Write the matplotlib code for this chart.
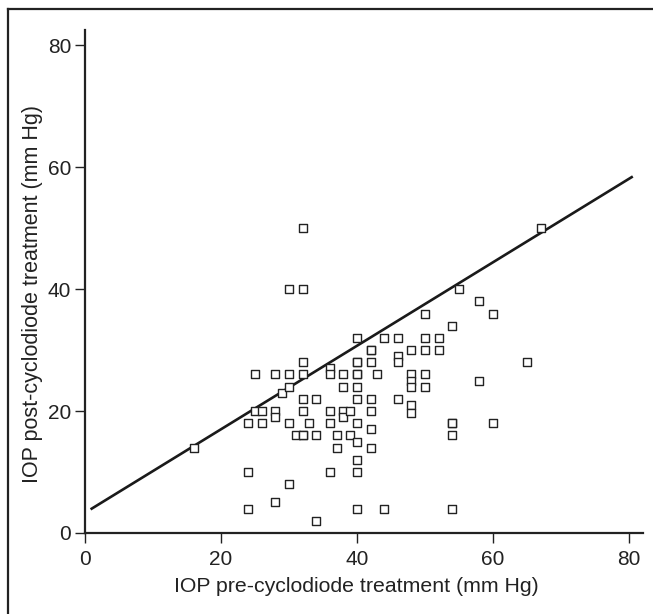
import numpy as np
import matplotlib
matplotlib.use("Agg")
import matplotlib.pyplot as plt
from matplotlib.lines import Line2D

plt.rcParams['font.family'] = ['Liberation Sans', 'DejaVu Sans']

# IOP pre / post cyclodiode (mm Hg)
pre = [16, 24, 24, 24, 25, 25, 26, 26, 28, 28, 28, 28, 29, 30, 30, 30, 30, 30, 31,
       32, 32, 32, 32, 32, 32, 32, 32, 33, 34, 34, 34,
       36, 36, 36, 36, 36, 37, 37, 38, 38, 38, 38, 39, 39,
       40, 40, 40, 40, 40, 40, 40, 40, 40, 40, 40, 40,
       42, 42, 42, 42, 42, 42, 42, 43, 44, 44,
       46, 46, 46, 46, 48, 48, 48, 48, 48, 48, 50, 50, 50, 50, 50, 52, 52,
       54, 54, 54, 54, 54, 55, 58, 58, 60, 60, 65, 67]
post = [14, 18, 10, 4, 26, 20, 20, 18, 26, 20, 19, 5, 23, 26, 24, 18, 8, 40, 16,
        28, 26, 22, 20, 16, 50, 40, 16, 18, 22, 16, 2,
        27, 26, 20, 18, 10, 16, 14, 26, 24, 20, 19, 20, 16,
        32, 28, 26, 24, 22, 18, 15, 12, 10, 4, 28, 26,
        30, 28, 22, 20, 17, 14, 30, 26, 32, 4,
        32, 29, 28, 22, 30, 26, 25, 24, 21, 19.6, 36, 32, 30, 26, 24, 32, 30,
        34, 18, 16, 4, 18, 40, 38, 25, 36, 18, 28, 50]

# regression line
fit_intercept = 3.3
fit_slope = 0.685
fit_range = [1, 80.4]

fig = plt.figure(figsize=(6.53, 6.14), dpi=100)
ax = fig.add_axes([0.130, 0.132, 0.854, 0.819])

ax.scatter(pre, post, marker='s', s=38, facecolors='white',
           edgecolors='#222222', linewidths=1.0, zorder=3)

fx = np.array(fit_range)
ax.plot(fx, fit_intercept + fit_slope * fx, color='#1a1a1a', lw=1.9, zorder=2)

ax.set_xlim(0, 82)
ax.set_ylim(0, 82.5)
ax.set_xticks([0, 20, 40, 60, 80])
ax.set_yticks([0, 20, 40, 60, 80])
for s in ['top', 'right']:
    ax.spines[s].set_visible(False)
for s in ['left', 'bottom']:
    ax.spines[s].set_linewidth(1.6)
    ax.spines[s].set_color('#222222')
ax.tick_params(axis='both', direction='out', length=7, width=1.0,
               labelsize=15, colors='#222222', pad=3)
ax.tick_params(axis='x', pad=5)

ax.set_xlabel('IOP pre-cyclodiode treatment (mm Hg)', fontsize=15.3,
              color='#222222')
ax.set_ylabel('IOP post-cyclodiode treatment (mm Hg)', fontsize=15.5,
              color='#222222')
ax.xaxis.set_label_coords(0.487, -0.087)
ax.yaxis.set_label_coords(-0.075, 0.475)

# outer frame of the original figure (left and top edges)
fig.add_artist(Line2D([0.013, 0.013], [0.0, 0.985], transform=fig.transFigure,
                      color='#222222', lw=1.6))
fig.add_artist(Line2D([0.013, 1.0], [0.985, 0.985], transform=fig.transFigure,
                      color='#222222', lw=1.6))

fig.savefig('out.png', dpi=100)
